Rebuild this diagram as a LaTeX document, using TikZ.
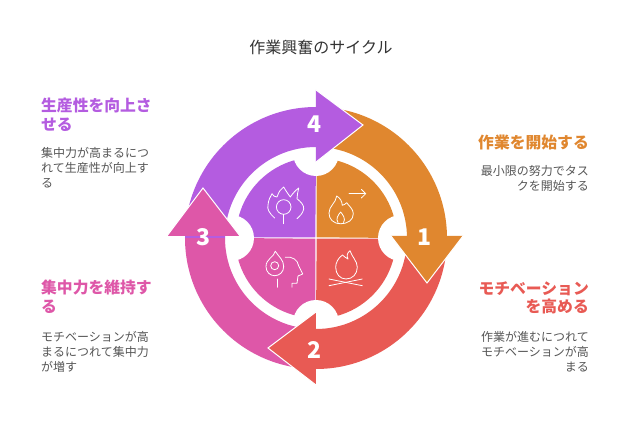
\documentclass[tikz,border=0pt]{standalone}
\usepackage{xcolor}
\usepackage{fontspec}
\setmainfont{Noto Sans CJK JP}
\definecolor{cyorange}{HTML}{E0872F}
\definecolor{cyred}{HTML}{E85A54}
\definecolor{cypink}{HTML}{DE57A8}
\definecolor{cypurple}{HTML}{B45CE0}
\definecolor{cygray}{HTML}{555555}
\tikzset{
  headtext/.style={inner sep=0pt, font=\fontsize{15.8}{18.6}\selectfont\bfseries},
  notetext/.style={inner sep=0pt, text=cygray, font=\fontsize{12}{15}\selectfont},
  numtext/.style={inner sep=0pt, text=white, font=\fontsize{23}{23}\selectfont\bfseries},
  headfill/.style={line width=1pt, draw=white, line join=miter},
  iconline/.style={draw=white, line width=.8pt, line cap=round, line join=round}
}

\begin{document}
\begin{tikzpicture}[x=1pt, y=1pt]
      \useasboundingbox (-316, -198) rectangle (324, 238);
      \node [inner sep=0pt, text=black!80, font=\fontsize{16}{18}\selectfont] (title) at (5, 191) {作業興奮のサイクル};
      % inner quarters
      \fill[cyorange] (0.7, 0.7) -- (0.7, 80) arc[start angle=90, end angle=0, radius=80] -- cycle;
      \fill[cyred] (0.7, -0.7) -- (80, -0.7) arc[start angle=0, end angle=-90, radius=80] -- cycle;
      \fill[cypink] (-0.7, -0.7) -- (-0.7, -80) arc[start angle=270, end angle=180, radius=80] -- cycle;
      \fill[cypurple] (-0.7, 0.7) -- (-80, 0.7) arc[start angle=180, end angle=90, radius=80] -- cycle;
      \fill[white] (85, 0) circle[radius=23];
      \fill[white] (0, -85) circle[radius=23];
      \fill[white] (-85, 0) circle[radius=23];
      \fill[white] (0, 85) circle[radius=23];
      % outer bands
      \fill[cyorange] (0, 131) arc[start angle=90, end angle=0, radius=131] -- (91, 0) arc[start angle=0, end angle=90, radius=91] -- cycle;
      \fill[cyred] (131, 0) arc[start angle=0, end angle=-90, radius=131] -- (0, -91) arc[start angle=-90, end angle=0, radius=91] -- cycle;
      \fill[cypink] (0, -131) arc[start angle=270, end angle=180, radius=131] -- (-91, 0) arc[start angle=180, end angle=270, radius=91] -- cycle;
      \fill[cypurple] (-131, 0) arc[start angle=180, end angle=90, radius=131] -- (0, 91) arc[start angle=90, end angle=180, radius=91] -- cycle;
      % arrow heads
      \filldraw[headfill, fill=cyorange] (75, 2) -- (111, -45) -- (147, 2);
      \filldraw[headfill, fill=cyred] (0, -74) -- (-48, -110) -- (0, -147);
      \filldraw[headfill, fill=cypink] (-149, 2) -- (-113, 50) -- (-76, 2);
      \filldraw[headfill, fill=cypurple] (0, 148) -- (47, 113) -- (0, 76);
      \node [numtext] (one) at (109, 1) {1};
      \node [numtext] (two) at (-1, -112) {2};
      \node [numtext] (three) at (-112, 1) {3};
      \node [numtext] (four) at (-1, 114) {4};
      % icons
      \draw[iconline] (-41.3, 20) .. controls (-47, 25) and (-49, 29) .. (-48, 33) .. controls (-47.5, 38) and (-46, 41) .. (-44, 44.3) .. controls (-43, 42) and (-41, 41) .. (-39, 41) .. controls (-37, 47) and (-35, 49) .. (-32.3, 51) .. controls (-30, 47) and (-28, 44) .. (-25.7, 41) .. controls (-23, 45) and (-20, 48) .. (-17.3, 50) .. controls (-18, 46) and (-19, 43) .. (-19, 39.3) .. controls (-15, 36) and (-12, 33) .. (-12.3, 29) .. controls (-13, 25) and (-16, 22) .. (-19, 19.3);
      \draw[iconline] (-32.3, 31) circle[radius=7.3];
      \draw[iconline] (-32.3, 23.7) -- (-32.3, 14.3);
      \draw[iconline] (33, 44.3) -- (49.7, 44.3);
      \draw[iconline] (45.3, 48.7) -- (49.7, 44.3) -- (45.3, 40);
      \draw[iconline] (24.7, 14.3) .. controls (17, 14.3) and (13, 19) .. (13, 25) .. controls (13, 32) and (20, 35) .. (20.7, 42) .. controls (24, 40) and (26, 37) .. (26.3, 32.7) .. controls (28, 33) and (29.5, 34) .. (30.7, 35.3) .. controls (33, 32) and (37.3, 29) .. (37.3, 24.3) .. controls (37.3, 18) and (32, 14.3) .. (24.7, 14.3);
      \draw[iconline] (22, 15.5) .. controls (19.5, 19) and (22, 23) .. (24.7, 26) .. controls (27, 23) and (30, 19) .. (27.5, 15.5);
      \draw[iconline] (-40.7, -13.3) .. controls (-42, -19) and (-50, -21) .. (-50, -28.5) .. controls (-50, -34) and (-46, -37.7) .. (-41.3, -37.7) .. controls (-36.5, -37.7) and (-32.3, -34) .. (-32.3, -28.5) .. controls (-32.3, -22) and (-37, -19) .. (-40.7, -13.3);
      \draw[iconline] (-41.3, -27.7) circle[radius=4];
      \draw[iconline] (-38.3, -41) -- (-38.3, -49.3);
      \draw[iconline] (-30.7, -19.3) .. controls (-24, -18) and (-18, -22) .. (-17.3, -28) -- (-13.3, -36) -- (-18, -38) -- (-19, -45.3) -- (-24, -45.3) -- (-24, -49.3);
      \draw[iconline] (34, -12.7) .. controls (31, -15) and (30.5, -18) .. (32, -21) .. controls (30, -20) and (28, -18.5) .. (26.5, -17) .. controls (22, -20) and (19.7, -25) .. (19.7, -29.3) .. controls (19.7, -36) and (24, -41) .. (30, -41) .. controls (36.5, -41) and (41.3, -36) .. (41.3, -29.3) .. controls (41.3, -23) and (36, -19) .. (34, -12.7);
      \draw[iconline] (13, -41) -- (46.3, -47.7);
      \draw[iconline] (46.3, -41) -- (13, -47.7);
      % labels
      \node [headtext, text=cypurple, anchor=west, align=left] (produce) at (-275, 123) {生産性を向上さ\\せる};
      \node [notetext, anchor=west, align=left] (producenote) at (-275, 70) {集中力が高まるにつ\\れて生産性が向上す\\る};
      \node [headtext, text=cyorange, anchor=east, align=right] (start) at (273, 95) {作業を開始する};
      \node [notetext, anchor=east, align=right] (startnote) at (273, 59.5) {最小限の努力でタス\\クを開始する};
      \node [headtext, text=cypink, anchor=west, align=left] (focus) at (-275, -59) {集中力を維持す\\る};
      \node [notetext, anchor=west, align=left] (focusnote) at (-275, -114) {モチベーションが高\\まるにつれて集中力\\が増す};
      \node [headtext, text=cyred, anchor=east, align=right] (motive) at (273, -60) {モチベーション\\を高める};
      \node [notetext, anchor=east, align=right] (motivenote) at (273, -114) {作業が進むにつれて\\モチベーションが高\\まる};
\end{tikzpicture}
\end{document}
